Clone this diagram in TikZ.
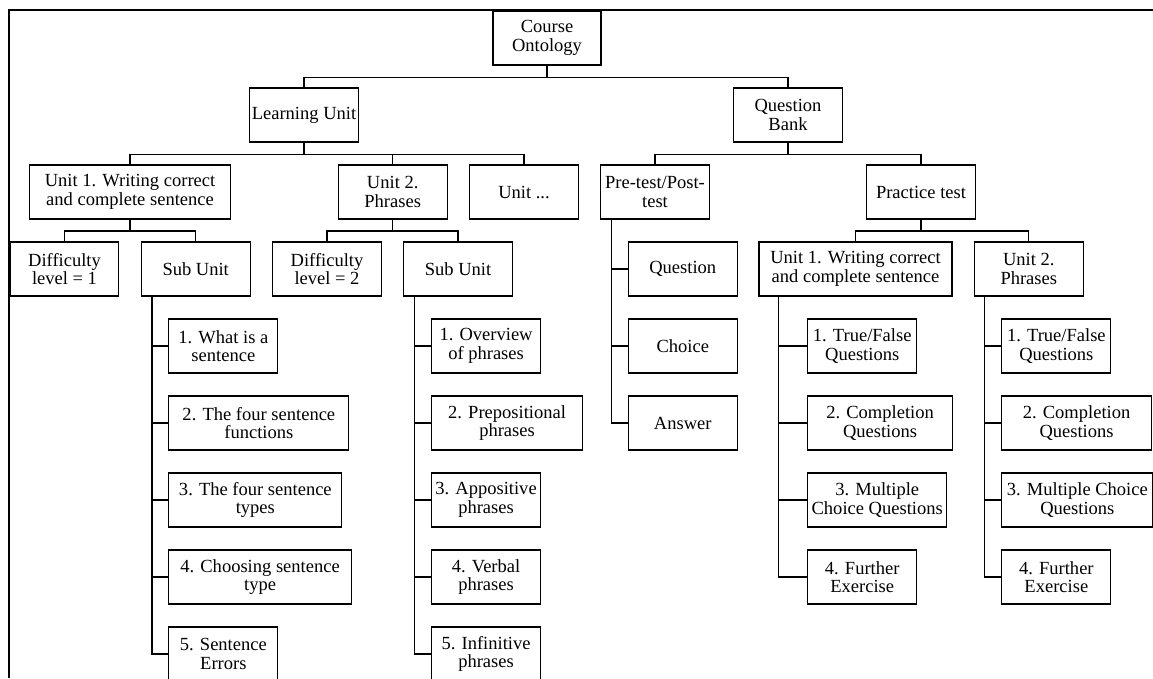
\documentclass[tikz,border=0pt]{standalone}
\usepackage{fontspec}
\setmainfont{Liberation Serif}
\tikzset{
  box/.style={draw, line width=0.6pt, align=center, inner sep=1pt,
    minimum height=29.2pt, minimum width=58.9pt, font=\fontsize{10}{10}\selectfont},
  wd/.style={minimum width=#1*0.54pt},
  link/.style={line width=0.6pt},
}
\begin{document}
\begin{tikzpicture}[x=0.54pt,y=-0.54pt]
    \clip (0,0) rectangle (1153,678);
    \draw[line width=1.1pt] (9,678) -- (9,10) -- (1153,10);
    % root and first level
    \node[box,wd=108] (course) at (547,38) {Course\\Ontology};
    \node[box] (lunit) at (304,115) {Learning Unit};
    \node[box] (qbank) at (788,115) {Question\\Bank};
    \foreach \n in {lunit,qbank}
        \draw[link] (course.south) -- ++(0,12) -| (\n.north);
    % units and tests
    \node[box,wd=201] (unit1) at (130,192) {Unit 1. Writing correct\\and complete sentence};
    \node[box] (unit2) at (392.7,192) {Unit 2.\\Phrases};
    \node[box] (unitn) at (524,192) {Unit ...};
    \node[box] (pretest) at (655,192) {Pre-test/Post-\\test};
    \node[box] (practice) at (921,192) {Practice test};
    \foreach \n in {unit1,unit2,unitn}
        \draw[link] (lunit.south) -- ++(0,11.5) -| (\n.north);
    \foreach \n in {pretest,practice}
        \draw[link] (qbank.south) -- ++(0,11.5) -| (\n.north);
    % third level
    \node[box,wd=108] (diff1) at (64.5,269) {Difficulty\\level = 1};
    \node[box] (sub1) at (195.7,269) {Sub Unit};
    \node[box] (diff2) at (327,269) {Difficulty\\level = 2};
    \node[box] (sub2) at (458,269) {Sub Unit};
    \node[box,wd=193] (punit1) at (855.5,269) {Unit 1. Writing correct\\and complete sentence};
    \node[box] (punit2) at (1028.8,269) {Unit 2.\\Phrases};
    \foreach \n in {diff1,sub1}
        \draw[link] (unit1.south) -- ++(0,11.4) -| (\n.north);
    \foreach \n in {diff2,sub2}
        \draw[link] (unit2.south) -- ++(0,11.4) -| (\n.north);
    \foreach \n in {punit1,punit2}
        \draw[link] (practice.south) -- ++(0,11.4) -| (\n.north);
    % lists
    \foreach \w/\t [count=\i] in {109/{1. What is a\\sentence}, 180/{2. The four sentence\\functions},
        173/{3. The four sentence\\types}, 182.4/{4. Choosing sentence\\type}, 109/{5. Sentence\\Errors}}
    {
        \node[box,wd=\w,anchor=west] (sa\i) at (168.3,269+77*\i) {\t};
        \draw[link] (sub1.south west) ++(11.4,0) |- (sa\i.west);
    }
    \foreach \w/\t [count=\i] in {109/{1. Overview\\of phrases}, 151/{2. Prepositional\\phrases},
        109/{3. Appositive\\phrases}, 109/{4. Verbal\\phrases}, 109/{5. Infinitive\\phrases}}
    {
        \node[box,wd=\w,anchor=west] (sb\i) at (431,269+77*\i) {\t};
        \draw[link] (sub2.south west) ++(11.7,0) |- (sb\i.west);
    }
    \foreach \t [count=\i] in {Question, Choice, Answer}
    {
        \node[box,anchor=west] (pq\i) at (627.7,192+77*\i) {\t};
        \draw[link] (pretest.south west) ++(11.3,0) |- (pq\i.west);
    }
    \foreach \w/\t [count=\i] in {108.7/{1. True/False\\Questions}, 144.4/{2. Completion\\Questions},
        138.7/{3. Multiple\\Choice Questions}, 108.7/{4. Further\\Exercise}}
    {
        \node[box,wd=\w,anchor=west] (pa\i) at (807.3,269+77*\i) {\t};
        \draw[link] (punit1.south west) ++(19.7,0) |- (pa\i.west);
    }
    \foreach \w/\t [count=\i] in {109/{1. True/False\\Questions}, 149.4/{2. Completion\\Questions},
        151/{3. Multiple Choice\\Questions}, 109/{4. Further\\Exercise}}
    {
        \node[box,wd=\w,anchor=west] (pb\i) at (1001.3,269+77*\i) {\t};
        \draw[link] (punit2.south west) ++(10.7,0) |- (pb\i.west);
    }
\end{tikzpicture}
\end{document}
